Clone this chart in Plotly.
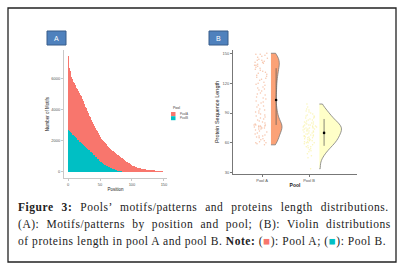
import plotly.graph_objects as go

W, H = 403, 269

# ---------------- Panel A data: motifs per position, stacked by pool ----------------
positions_a = list(range(1, 148))
pool_a_counts = [
    4510, 4040, 3880, 3710, 3570, 3450, 3410, 3380, 3340, 3310,
    3290, 3260, 3220, 3190, 3150, 3110, 3070, 3030, 3000, 2960,
    2900, 2830, 2780, 2710, 2650, 2590, 2540, 2470, 2420, 2360,
    2310, 2260, 2210, 2160, 2110, 2060, 2010, 1970, 1910, 1870,
    1820, 1790, 1760, 1720, 1700, 1660, 1630, 1590, 1570, 1530,
    1500, 1480, 1460, 1440, 1420, 1410, 1390, 1370, 1340, 1320,
    1300, 1270, 1260, 1230, 1210, 1180, 1160, 1140, 1120, 1110,
    1090, 1070, 1050, 1040, 1020, 1010, 990, 975, 960, 940,
    920, 900, 880, 855, 830, 805, 780, 750, 720, 690,
    650, 620, 590, 560, 530, 500, 480, 450, 420, 400,
    380, 360, 340, 325, 310, 295, 280, 270, 255, 245,
    230, 220, 210, 200, 190, 180, 170, 160, 150, 145,
    135, 130, 120, 115, 105, 100, 95, 85, 80, 75,
    70, 65, 60, 55, 50, 45, 40, 38, 32, 30,
    25, 20, 17, 14, 10, 6, 3,
]
positions_b = list(range(1, 87))
pool_b_counts = [
    2970, 2660, 2620, 2590, 2550, 2500, 2450, 2400, 2360, 2320,
    2280, 2240, 2200, 2150, 2110, 2070, 2030, 1990, 1940, 1900,
    1860, 1830, 1790, 1760, 1720, 1680, 1640, 1610, 1570, 1530,
    1490, 1450, 1410, 1370, 1330, 1290, 1250, 1210, 1180, 1140,
    1100, 1050, 1010, 970, 920, 880, 840, 800, 750, 710,
    670, 640, 610, 580, 550, 520, 490, 460, 440, 410,
    390, 370, 340, 320, 300, 280, 260, 240, 220, 200,
    180, 170, 150, 130, 120, 100, 90, 75, 60, 50,
    40, 30, 20, 15, 10, 5,
]
a_xticks = [0, 50, 100, 150]
a_yticks = [0, 2000, 4000, 6000]

# ---------------- Panel B data: protein sequence lengths ----------------
pool_a_lengths = [
    150, 149, 149, 148, 147, 146, 145, 144, 143, 143, 142, 141, 141, 140,
    139, 138, 137, 136, 135, 134, 133, 132, 131, 130, 129, 128, 127, 126, 125, 138,
    124, 123, 121, 120, 119, 118, 116, 115, 114, 113, 112, 110,
    109, 108, 106, 105, 104, 102, 101, 100, 98, 97, 96,
    94, 93, 92, 91, 90, 89, 88, 87, 86,
    85, 84, 83, 82, 81, 80, 79, 78, 78, 78, 77, 77, 77, 76, 76, 76, 75, 75, 74, 74, 73, 72, 71, 70,
    69, 68, 67, 67, 66, 65, 64, 63, 62, 61, 60, 60, 59, 58,
]
pool_b_lengths = [
    99, 96,
    94, 93, 92, 91, 90, 89, 88,
    87, 87, 86, 85, 85, 84, 83, 83, 82, 81, 81, 80, 80,
    79, 79, 78, 78, 78, 77, 77, 77, 76, 76, 76, 75, 75, 75, 74, 74, 74, 73, 73, 72, 72, 72, 71, 71, 70, 70,
    69, 69, 68, 68, 67, 67, 67, 66, 66, 65, 65, 64, 64, 63, 63, 62, 62, 61, 61, 60, 60, 60,
    59, 58, 57, 56, 56, 55, 54, 53, 52,
    51, 49, 47, 45,
    34,
]
pool_names = ["Pool A", "Pool B"]
summary_mean = [103, 70]
summary_low = [78, 57]
summary_high = [135, 84]
b_yticks = [30, 60, 90, 120, 150]

RED = "#F8766D"
TEAL = "#00BFC4"

fig = go.Figure()

# Panel A stacked bars
fig.add_trace(go.Bar(x=positions_b, y=pool_b_counts, name="PoolB", marker_color=TEAL,
                     marker_line_width=0, xaxis="x", yaxis="y", showlegend=False))
fig.add_trace(go.Bar(x=positions_a, y=pool_a_counts, name="PoolA", marker_color=RED,
                     marker_line_width=0, xaxis="x", yaxis="y", showlegend=False))

# Panel B: jittered raw points (library jitter) using invisible boxes
pt_specs = [(pool_a_lengths, 0.98, 0.34, "rgba(240,140,90,0.5)"),
            (pool_b_lengths, 2.01, 0.32, "rgba(246,238,140,0.6)")]
for vals, xc, wd, col in pt_specs:
    fig.add_trace(go.Box(y=vals, x0=xc, width=wd, boxpoints="all", jitter=1, pointpos=0,
                         fillcolor="rgba(0,0,0,0)", line=dict(width=0, color="rgba(0,0,0,0)"),
                         marker=dict(size=1.5, color=col), xaxis="x2", yaxis="y2",
                         showlegend=False, hoverinfo="skip"))

# Half violins
vio_specs = [(pool_a_lengths, 1.19, 0.47, "#FBA277", 5.5),
             (pool_b_lengths, 2.22, 0.94, "#FFFFC8", 5)]
for vals, xc, wd, col, bw in vio_specs:
    fig.add_trace(go.Violin(y=vals, x0=xc, width=wd, side="positive", points=False,
                            spanmode="hard", bandwidth=bw, fillcolor=col, opacity=1,
                            line=dict(color="#7a7a7a", width=0.8),
                            box_visible=False, meanline_visible=False,
                            xaxis="x2", yaxis="y2", showlegend=False, hoverinfo="skip"))

# Mean +- sd
fig.add_trace(go.Scatter(
    x=[1.30, 2.32], y=summary_mean, mode="markers",
    marker=dict(size=2.6, color="black"),
    error_y=dict(type="data", symmetric=False,
                 array=[h - m for h, m in zip(summary_high, summary_mean)],
                 arrayminus=[m - l for m, l in zip(summary_mean, summary_low)],
                 width=0, thickness=0.7, color="#555"),
    xaxis="x2", yaxis="y2", showlegend=False, hoverinfo="skip"))

def px(x):
    return x / W

def py(y):
    return 1 - y / H

tickfont = dict(family="Liberation Sans", size=4, color="#555")
fig.update_layout(
    width=W, height=H, margin=dict(l=0, r=0, t=0, b=0),
    paper_bgcolor="white", plot_bgcolor="white",
    barmode="stack", bargap=0, boxmode="overlay", violinmode="overlay",
    xaxis=dict(domain=[px(64), px(167)], range=[-6.25, 154.7], tickvals=a_xticks, anchor="y",
               showline=True, linecolor="#c8c8c8", linewidth=1, ticks="outside", ticklen=2,
               tickcolor="#c8c8c8", tickfont=tickfont, showgrid=False, zeroline=False,
               title=dict(text="Position", font=dict(family="Liberation Sans", size=4.5, color="#222"),
                          standoff=2)),
    yaxis=dict(domain=[py(178), py(50)], range=[-406, 7852], tickvals=a_yticks, anchor="x",
               showline=True, linecolor="#c8c8c8", linewidth=1, ticks="outside", ticklen=2,
               tickcolor="#c8c8c8", tickfont=tickfont, showgrid=False, zeroline=False,
               title=dict(text="Number of Motifs", font=dict(family="Liberation Sans", size=4.5, color="#222"),
                          standoff=1)),
    xaxis2=dict(domain=[px(233), px(357)], range=[0.383, 3.02], tickvals=[1, 2], ticktext=pool_names,
                anchor="y2",
                showline=True, linecolor="#777", linewidth=0.8, ticks="outside", ticklen=2,
                tickcolor="#777", tickfont=tickfont, showgrid=False, zeroline=False,
                title=dict(text="<b>Pool</b>", font=dict(family="Liberation Sans", size=5, color="#222"),
                           standoff=1)),
    yaxis2=dict(domain=[py(174), py(50)], range=[28.7, 153.3], tickvals=b_yticks, anchor="x2",
                showline=True, linecolor="#777", linewidth=0.8, ticks="outside", ticklen=2,
                tickcolor="#777", tickfont=tickfont, showgrid=False, zeroline=False,
                title=dict(text="Protein Sequence Length", font=dict(family="Liberation Sans", size=5.5, color="#222"),
                           standoff=2)),
)

shapes = []
annotations = []
# outer frame
shapes.append(dict(type="rect", xref="paper", yref="paper", x0=px(8), x1=px(396), y0=py(262), y1=py(8),
                   line=dict(color="#222", width=1.3), fillcolor="rgba(0,0,0,0)", layer="above"))
# panel labels
for lab, x0, x1 in [("A", 47, 66), ("B", 209, 228)]:
    shapes.append(dict(type="rect", xref="paper", yref="paper", x0=px(x0), x1=px(x1), y0=py(45), y1=py(31),
                       line=dict(color="#385D8A", width=1), fillcolor="#4F81BD"))
    annotations.append(dict(text=lab, x=px((x0 + x1) / 2), y=py(38), xref="paper", yref="paper",
                            showarrow=False, font=dict(family="Liberation Sans", size=7, color="white"),
                            xanchor="center", yanchor="middle"))
# legend of panel A
annotations.append(dict(text="Pool", x=px(171), y=py(107.5), xref="paper", yref="paper", showarrow=False,
                        font=dict(family="Liberation Sans", size=3.5, color="#333"), xanchor="left", yanchor="middle"))
for name, col, y0 in [("PoolA", RED, 112), ("PoolB", TEAL, 116.2)]:
    shapes.append(dict(type="rect", xref="paper", yref="paper", x0=px(171), x1=px(175.5), y0=py(y0 + 4), y1=py(y0),
                       line=dict(width=0), fillcolor=col))
    annotations.append(dict(text=name, x=px(177.5), y=py(y0 + 2), xref="paper", yref="paper", showarrow=False,
                            font=dict(family="Liberation Sans", size=3, color="#555"), xanchor="left", yanchor="middle"))

# caption
cap_font = dict(family="Liberation Serif", size=11.5, color="#222")
lines = [
    ("<b>Figure 3:</b> Pools’ motifs/patterns and proteins length distributions.", 4.5),
    ("(A): Motifs/patterns by position and pool; (B): Violin distributions", 3.7),
    ("of proteins length in pool A and pool B. <b>Note:</b> (<span style='color:%s'>■</span>): Pool A; (<span style='color:%s'>■</span>): Pool B." % (RED, TEAL), 0),
]
for i, (t, ws) in enumerate(lines):
    styled = "<span style='letter-spacing:0.55px;word-spacing:%.1fpx'>%s</span>" % (ws, t)
    annotations.append(dict(text=styled, x=px(16), y=py(207 + 17 * i), xref="paper", yref="paper", showarrow=False,
                            font=cap_font, xanchor="left", yanchor="middle", align="left"))

fig.update_layout(shapes=shapes, annotations=annotations)
fig.write_html("out.html", config={"displayModeBar": False},
               post_script="document.body.style.margin='0';document.body.style.padding='0';")
